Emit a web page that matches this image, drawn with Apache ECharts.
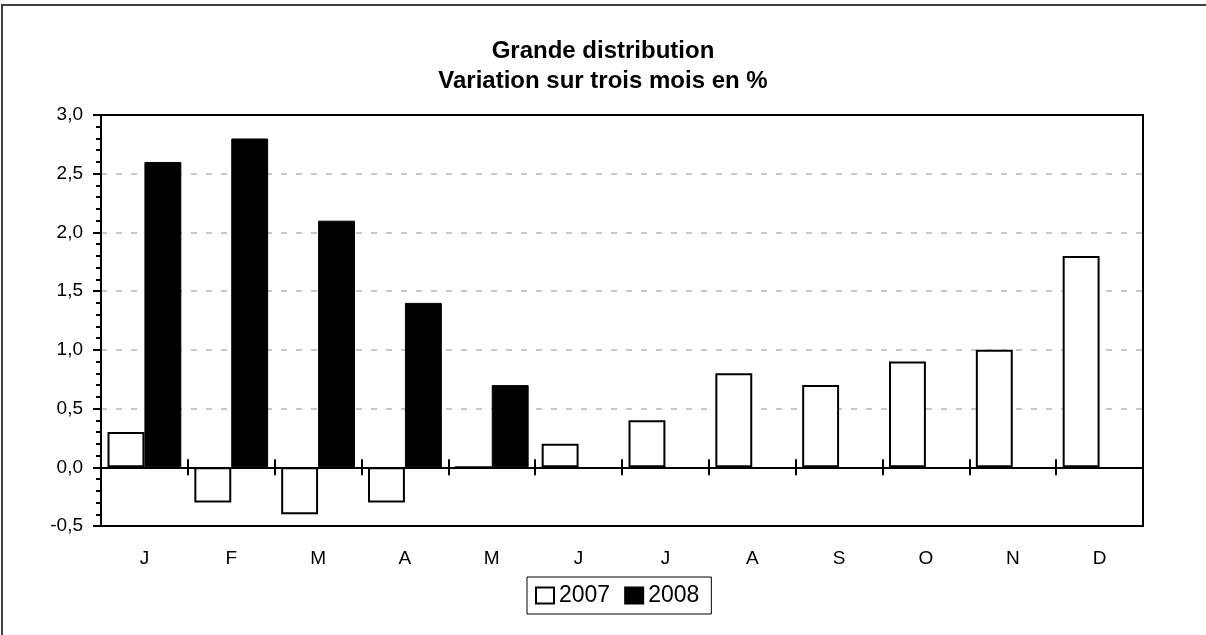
<!DOCTYPE html>
<html>
<head>
<meta charset="utf-8">
<title>Grande distribution</title>
<script src="https://cdn.jsdelivr.net/npm/echarts@6/dist/echarts.min.js"></script>
<style>
  html, body { margin: 0; padding: 0; background: #fff; }
  #chart { width: 1206px; height: 635px; }
</style>
</head>
<body>
<div id="chart"></div>
<script>
var months = ['J', 'F', 'M', 'A', 'M', 'J', 'J', 'A', 'S', 'O', 'N', 'D'];
var values2007 = [0.3, -0.3, -0.4, -0.3, 0, 0.2, 0.4, 0.8, 0.7, 0.9, 1.0, 1.8];
var values2008 = [2.6, 2.8, 2.1, 1.4, 0.7, null, null, null, null, null, null, null];
var yMin = -0.5;
var yMax = 3.0;
var yStep = 0.5;

var font = '"Liberation Sans", Arial, sans-serif';
var gridGrey = '#c8c8c8';

// zero-line axes only carry the crossing ticks
function zeroAxis(inside) {
  return {
    type: 'category',
    data: months,
    position: 'bottom',
    axisLine: { show: true, onZero: true, onZeroAxisIndex: 0, lineStyle: { color: '#000', width: 2 } },
    axisTick: { show: true, inside: inside, length: 8, lineStyle: { color: '#000', width: 2 } },
    axisLabel: { show: false },
    splitLine: { show: false }
  };
}

var chart = echarts.init(document.getElementById('chart'), null, { renderer: 'canvas' });
chart.setOption({
  animation: false,
  backgroundColor: '#fff',
  textStyle: { fontFamily: font },
  title: {
    text: 'Grande distribution\nVariation sur trois mois en %',
    left: 'center',
    top: 31,
    textStyle: { fontFamily: font, fontSize: 24, fontWeight: 'bold', color: '#000', lineHeight: 30 }
  },
  legend: {
    data: ['2007', '2008'],
    left: 527,
    top: 577,
    orient: 'horizontal',
    padding: [6, 12, 6, 8],
    borderColor: '#000',
    borderWidth: 1,
    itemWidth: 18,
    itemHeight: 16,
    itemGap: 14,
    itemTextGap: 5,
    icon: 'rect',
    textStyle: { fontFamily: font, fontSize: 23, color: '#000', lineHeight: 25 }
  },
  grid: {
    left: 101,
    right: 63,
    top: 115,
    bottom: 109,
    show: true,
    borderColor: '#000',
    borderWidth: 2,
    backgroundColor: 'transparent'
  },
  xAxis: [
    {
      type: 'category',
      data: months,
      position: 'bottom',
      axisLine: { show: true, onZero: false, lineStyle: { color: '#000', width: 2 } },
      axisTick: { show: false },
      axisLabel: { fontFamily: font, fontSize: 19, color: '#000', margin: 23 },
      splitLine: { show: false }
    },
    zeroAxis(false),
    zeroAxis(true)
  ],
  yAxis: {
    type: 'value',
    min: yMin,
    max: yMax,
    interval: yStep,
    axisLine: { show: true, lineStyle: { color: '#000', width: 2 } },
    axisTick: { show: true, length: 8, lineStyle: { color: '#000', width: 2 } },
    minorTick: { show: true, splitNumber: 5, length: 5, lineStyle: { color: '#000', width: 2 } },
    axisLabel: {
      fontFamily: font,
      fontSize: 19,
      color: '#000',
      margin: 18,
      formatter: function (v) { return v.toFixed(1).replace('.', ','); }
    },
    splitLine: {
      show: true,
      lineStyle: {
        // no dashes on -0,5, 0,0 and 3,0 where black lines sit
        color: ['transparent', 'transparent', gridGrey, gridGrey, gridGrey, gridGrey, gridGrey, 'transparent'],
        width: 2,
        type: [6, 9]
      }
    }
  },
  series: [
    {
      name: '2007',
      type: 'bar',
      xAxisIndex: 0,
      data: values2007,
      barGap: '0%',
      barCategoryGap: '15%',
      itemStyle: { color: '#fff', borderColor: '#000', borderWidth: 2 }
    },
    {
      name: '2008',
      type: 'bar',
      xAxisIndex: 0,
      data: values2008,
      barGap: '0%',
      barCategoryGap: '15%',
      itemStyle: { color: '#000', borderColor: '#000', borderWidth: 1 }
    }
  ],
  graphic: [
    {
      type: 'rect',
      shape: { x: 2, y: 5, width: 1300, height: 700 },
      style: { fill: 'none', stroke: '#404040', lineWidth: 2 },
      silent: true
    }
  ]
});
</script>
</body>
</html>
